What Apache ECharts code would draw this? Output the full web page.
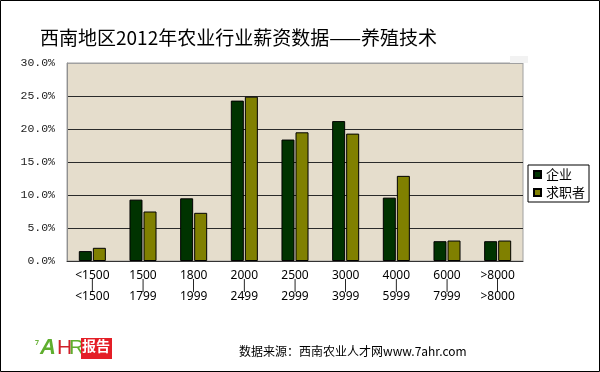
<!DOCTYPE html>
<html>
<head>
<meta charset="utf-8">
<script src="https://cdn.jsdelivr.net/npm/echarts@6/dist/echarts.min.js"></script>
<style>
html,body{margin:0;padding:0;background:#fff;}
#c{width:600px;height:372px;}
</style>
</head>
<body>
<div id="c"></div>
<script>
var categories = ['<1500\n|\n<1500','1500\n|\n1799','1800\n|\n1999','2000\n|\n2499','2500\n|\n2999','3000\n|\n3999','4000\n|\n5999','6000\n|\n7999','>8000\n|\n>8000'];
var seriesNames = ['企业','求职者'];
var enterprise = [1.5, 9.3, 9.5, 24.3, 18.4, 21.2, 9.6, 3.0, 3.0];
var seekers = [2.0, 7.5, 7.3, 24.9, 19.5, 19.3, 12.9, 3.1, 3.1];
var titleText = '西南地区2012年农业行业薪资数据——养殖技术';
var sourceText = '数据来源：西南农业人才网www.7ahr.com';

var chart = echarts.init(document.getElementById('c'), null, {renderer:'canvas'});
var cjk = '"Noto Sans CJK SC", "Noto Sans", sans-serif';
chart.setOption({
  animation: false,
  backgroundColor: '#fff',
  title: {
    text: titleText, left: 35, top: 23,
    textStyle: {fontFamily: cjk, fontSize: 19, fontWeight: 'normal', color: '#000'}
  },
  legend: {
    orient: 'vertical', left: 528, top: 165,
    backgroundColor: '#fff', borderColor: '#000', borderWidth: 1,
    padding: [3, 4, 3, 5], itemGap: 5, itemWidth: 7, itemHeight: 7,
    icon: 'rect',
    textStyle: {fontFamily: cjk, fontSize: 13, color: '#000', lineHeight: 13},
    data: seriesNames
  },
  grid: {
    left: 67, right: 77, top: 63, bottom: 111,
    show: true, backgroundColor: '#e5ddcc', borderColor: '#a0a0a0', borderWidth: 1
  },
  xAxis: {
    type: 'category', data: categories,
    axisLine: {lineStyle: {color: '#333', width: 1}},
    axisTick: {inside: true, length: 3, lineStyle: {color: '#333'}},
    axisLabel: {margin: 9, color: '#000', fontFamily: '"Noto Sans", sans-serif', fontSize: 12, lineHeight: 10.5, interval: 0}
  },
  yAxis: {
    type: 'value', min: 0, max: 30, interval: 5,
    axisLine: {show: true, lineStyle: {color: '#909090'}},
    axisTick: {show: false},
    axisLabel: {margin: 12, color: '#222', fontFamily: '"Liberation Mono", monospace', fontSize: 11.5,
      formatter: function(v){ return v.toFixed(1) + '%'; }},
    splitLine: {show: true, lineStyle: {color: ['#a0a0a0','#2a2a2a','#2a2a2a','#2a2a2a','#2a2a2a','#2a2a2a','#a0a0a0'], width: 1}}
  },
  series: [
    {name: seriesNames[0], type: 'bar', data: enterprise, barWidth: 13, barGap: '8%',
     itemStyle: {color: '#003300', borderColor: '#000', borderWidth: 1}},
    {name: seriesNames[1], type: 'bar', data: seekers, barWidth: 13,
     itemStyle: {color: '#808000', borderColor: '#000', borderWidth: 1}}
  ],
  graphic: [
    {type: 'rect', shape: {x: 0.5, y: 0.5, width: 599, height: 371}, style: {fill: 'none', stroke: '#000', lineWidth: 1}, z: 100},
    {type: 'rect', shape: {x: 510, y: 56, width: 18, height: 7}, style: {fill: '#f2f2f2'}, z: 1},
    {type: 'text', left: 239, top: 345, style: {text: sourceText, font: '12px "Noto Sans CJK SC", sans-serif', fill: '#000'}},
    {type: 'text', left: 35, top: 339, style: {text: '7', font: 'bold 7px "Noto Sans", sans-serif', fill: '#6db33f'}},
    {type: 'text', left: 40, top: 337, style: {text: 'A', font: 'italic bold 22px "Liberation Sans", sans-serif', fill: '#5fae2e'}},
    {type: 'text', left: 57, top: 338, style: {text: 'H', font: '21px "Liberation Sans", sans-serif', fill: '#d0202a'}},
    {type: 'text', left: 69, top: 338, style: {text: 'R', font: '21px "Liberation Sans", sans-serif', fill: '#5fae2e'}},
    {type: 'rect', shape: {x: 81, y: 338, width: 31, height: 21}, style: {fill: '#e41e26'}},
    {type: 'text', left: 82, top: 339, style: {text: '报告', font: 'bold 14px "Noto Sans CJK SC", sans-serif', fill: '#fff'}}
  ]
});
</script>
</body>
</html>
